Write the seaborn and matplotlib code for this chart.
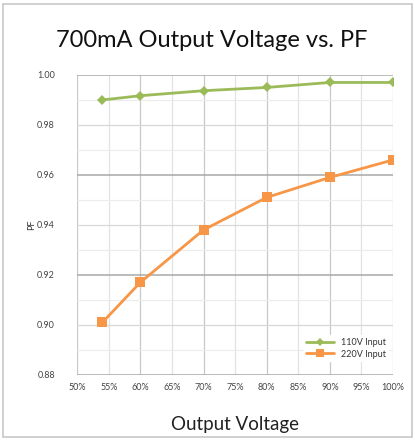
import matplotlib
matplotlib.use("Agg")
import matplotlib.pyplot as plt
import seaborn as sns
import pandas as pd
import numpy as np
from matplotlib.patches import Rectangle

voltage_110 = [54, 60, 70, 80, 90, 100]
pf_110 = [0.990, 0.9917, 0.9937, 0.9950, 0.9970, 0.9970]
voltage_220 = [54, 60, 70, 80, 90, 100]
pf_220 = [0.901, 0.917, 0.938, 0.951, 0.959, 0.966]
series_names = ["110V Input", "220V Input"]
x_ticks = [50, 55, 60, 65, 70, 75, 80, 85, 90, 95, 100]
x_ticklabels = [f"{v}%" for v in x_ticks]
y_ticks = [0.88, 0.90, 0.92, 0.94, 0.96, 0.98, 1.00]

df = pd.concat([
    pd.DataFrame({"Output Voltage": voltage_110, "PF": pf_110, "Series": series_names[0]}),
    pd.DataFrame({"Output Voltage": voltage_220, "PF": pf_220, "Series": series_names[1]}),
])

sns.set_style("white")
plt.rcParams['font.family'] = ['Lato', 'DejaVu Sans']

fig = plt.figure(figsize=(4.15, 4.41), dpi=100)
ax = fig.add_axes([0.186, 0.150, 0.761, 0.680])

# gridlines
for x in x_ticks:
    c = "#c8c8c8" if x % 10 == 0 else "#e2e2e2"
    ax.axvline(x, color=c, lw=0.9, zorder=0)
for y in np.arange(0.88, 1.0001, 0.01):
    yy = round(y, 2)
    if round(yy * 100) % 4 == 0:
        c, lw = "#a8a8a8", 1.1
    elif round(yy * 100) % 2 == 0:
        c, lw = "#d8d8d8", 0.9
    else:
        c, lw = "#ececec", 0.8
    ax.axhline(yy, color=c, lw=lw, zorder=0)

palette = {series_names[0]: "#9BBB59", series_names[1]: "#F79646"}
sns.lineplot(data=df, x="Output Voltage", y="PF", hue="Series", style="Series",
             markers={series_names[0]: "D", series_names[1]: "s"}, dashes=False,
             palette=palette, lw=2, markersize=6, markeredgewidth=0, ax=ax)
for ln in ax.lines:
    if ln.get_marker() == "s":
        ln.set_markersize(7.5)
    elif ln.get_marker() == "D":
        ln.set_markersize(5.5)

ax.set_xlim(50, 100)
ax.set_ylim(0.88, 1.00)
ax.set_xticks(x_ticks)
ax.set_xticklabels(x_ticklabels)
ax.set_yticks(y_ticks)
ax.set_yticklabels([f"{v:.2f}" for v in y_ticks])
ax.tick_params(axis="both", labelsize=6.5, colors="#444444", length=0)
ax.tick_params(axis="x", pad=6)
ax.tick_params(axis="y", pad=16)
for s in ax.spines.values():
    s.set_visible(False)

ax.set_xlabel("Output Voltage", fontsize=13.5, color="#222222", labelpad=17)
ax.set_ylabel("PF", fontsize=6.5, color="#333333", labelpad=1)

leg = ax.legend(loc="lower right", fontsize=6.5, frameon=True, framealpha=1,
                edgecolor="white", handlelength=3, borderpad=0.3, labelspacing=0.3,
                bbox_to_anchor=(1.0, 0.03), markerscale=0.7)
for t in leg.get_texts():
    t.set_color("#333333")

fig.text(0.51, 0.909, "700mA Output Voltage vs. PF", ha="center", va="center",
         fontsize=17, color="#111111")

fig.patches.append(Rectangle((0.008, 0.008), 0.984, 0.984, transform=fig.transFigure,
                             fill=False, edgecolor="#c8c8c8", lw=1.2))

fig.savefig("out.png", dpi=100)
